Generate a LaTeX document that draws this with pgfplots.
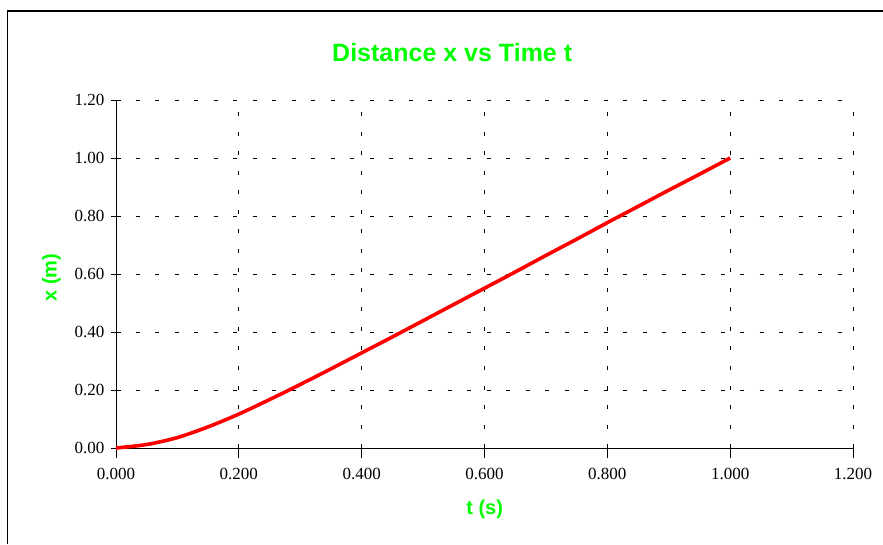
\documentclass[border=0pt]{standalone}
\usepackage{fontspec}
\setmainfont{Liberation Serif}
\newfontfamily\arialbf{Liberation Sans}[UprightFont=* Bold]
\usepackage{pgfplots}
\pgfplotsset{compat=1.18}
\definecolor{lime}{RGB}{0,255,0}
\definecolor{pred}{RGB}{255,0,0}
\begin{document}
\begin{tikzpicture}[x=1pt,y=1pt]
\useasboundingbox (0pt,0pt) rectangle (883pt,544pt);
\draw[line width=1.3pt] (7.5pt,0pt) -- (7.5pt,533pt) -- (883pt,533pt);
\begin{axis}[
  at={(116pt,96pt)}, anchor=origin,
  scale only axis, width=737pt, height=348pt,
  xmin=0, xmax=1.2, ymin=0, ymax=1.2,
  xtick={0,0.2,0.4,0.6,0.8,1.0,1.2},
  ytick={0,0.2,0.4,0.6,0.8,1.0,1.2},
  axis x line*=bottom, axis y line*=left,
  axis line style={line width=0.9pt, -},
  x tick style={line width=0.9pt, black},
  y tick style={line width=0.9pt, black},
  xtick align=outside, ytick align=center,
  major tick length=10pt,
  grid=major,
  major grid style={black, line width=0.8pt, dash pattern=on 4pt off 15.5pt},
  /pgf/number format/assume math mode=true,
  xticklabel style={yshift=-7pt, /pgf/number format/.cd, fixed, fixed zerofill, precision=3},
  yticklabel style={xshift=-3pt, /pgf/number format/.cd, fixed, fixed zerofill, precision=2},
  ticklabel style={font=\fontsize{17}{20}\selectfont},
  clip=false,
]
\addplot[pred, line width=3.6pt, smooth, line join=round] coordinates {
(0,0) (0.05,0.012) (0.1,0.036) (0.15,0.073) (0.2,0.117) (0.25,0.167)
(0.3,0.219) (0.35,0.273) (0.4,0.328) (0.45,0.383) (0.5,0.439)
(0.55,0.495) (0.6,0.551) (0.65,0.607) (0.7,0.664) (0.75,0.720)
(0.8,0.777) (0.85,0.833) (0.9,0.889) (0.95,0.944) (1.0,1.0)
};
\end{axis}
\node[anchor=base, text=lime, inner sep=0pt] at (452.2pt,482pt) {\arialbf\fontsize{25}{29}\selectfont Distance x vs Time t};
\node[anchor=base, text=lime, inner sep=0pt] at (484.7pt,29.7pt) {\arialbf\fontsize{20}{23}\selectfont t (s)};
\node[anchor=base, rotate=90, text=lime, inner sep=0pt] at (56.7pt,266.5pt) {\arialbf\fontsize{20}{23}\selectfont x (m)};
\end{tikzpicture}
\end{document}
